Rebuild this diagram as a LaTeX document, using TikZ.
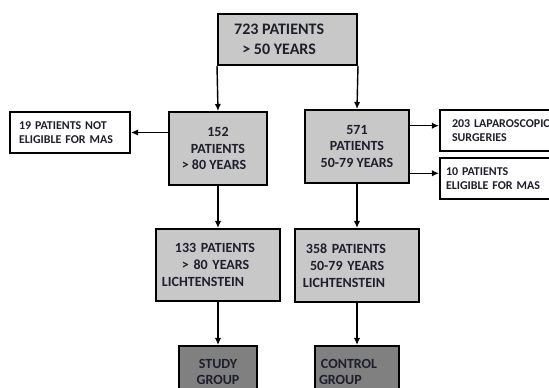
\documentclass[tikz,border=0pt]{standalone}
\usepackage{fontspec}
\setmainfont{Carlito}
\usetikzlibrary{arrows.meta}
\definecolor{boxgray}{HTML}{C8C8C8}
\definecolor{groupgray}{HTML}{808080}
\definecolor{inkdark}{HTML}{1E1E2D}
\newcommand{\toptxt}{\fontsize{11.4}{13.9}\selectfont\bfseries}
\newcommand{\midtxt}{\fontsize{9.96}{11.9}\selectfont\bfseries}
\newcommand{\sidetxt}{\fontsize{8.5}{10.2}\selectfont\bfseries}

\begin{document}
\begin{tikzpicture}[>=Latex,
  stage/.style={draw=black,line width=1.4pt,fill=boxgray,text=inkdark,align=center,inner sep=2pt,font=\midtxt},
  sidebox/.style={draw=black,line width=1.4pt,fill=white,text=inkdark,align=left,inner ysep=2pt,font=\sidetxt},
  groupbox/.style={draw=black,line width=1.4pt,fill=groupgray,text=inkdark,inner ysep=2pt,font=\midtxt},
  arr/.style={-{Latex[length=5pt,width=4.5pt]},line width=1pt}]
\useasboundingbox (0,0) rectangle (13.725,9.7);
\clip (0,0) rectangle (13.725,9.7);
% top level
\node[stage,font=\toptxt,minimum width=3.475cm,minimum height=1.275cm] (all) at (7.1875,8.7125) {723 PATIENTS\hspace*{0.42cm}\\> 50 YEARS\hspace*{0.42cm}};
% age split
\node[stage,minimum width=2.45cm,minimum height=1.825cm] (old) at (5.45,5.9875) {152\\PATIENTS\\> 80 YEARS\hspace*{0.2cm}};
\node[stage,minimum width=2.6cm,minimum height=1.825cm] (young) at (8.925,6.0375) {571\\PATIENTS\\50-79 YEARS};
% excluded
\node[sidebox,inner xsep=0.225cm,text width=2.55cm,minimum height=1.025cm] (notmas) at (1.75,6.3875) {19 PATIENTS NOT\\ELIGIBLE FOR MAS};
\node[sidebox,inner xsep=0.3cm,text width=2.9cm,minimum height=1.025cm] (lap) at (12.75,6.4375) {203 LAPAROSCOPIC\\SURGERIES};
\node[sidebox,inner xsep=0.15cm,text width=3.2cm,minimum height=1.025cm] (yesmas) at (12.75,5.2375) {10 PATIENTS\\ELIGIBLE FOR MAS};
% lichtenstein
\node[stage,align=left,inner xsep=0.15cm,text width=2.8cm,minimum height=1.8cm] (oldlich) at (5.45,3.075) {\hspace*{0.325cm}133 PATIENTS\\\hspace*{0.5cm}> 80 YEARS\\LICHTENSTEIN};
\node[stage,align=left,inner xsep=0.2cm,text width=2.7cm,minimum height=1.825cm] (younglich) at (8.925,3.0625) {\hspace*{0.075cm}358 PATIENTS\\\hspace*{0.175cm}50-79 YEARS\\LICHTENSTEIN};
% groups
\node[groupbox,align=center,minimum width=1.95cm,minimum height=1.3cm] (study) at (5.45,0.4) {STUDY\\GROUP};
\node[groupbox,align=left,inner xsep=0.1cm,text width=1.9cm,minimum height=1.3cm] (control) at (8.925,0.4) {\hspace*{0.05cm}CONTROL\\GROUP};
% arrows
\draw[arr] (all.south west) -- (old.north);
\draw[arr] (all.south east) -- (young.north);
\draw[arr] (old.west |- notmas.east) -- (notmas.east);
\draw[arr] ([yshift=1.2mm]lap.west -| young.east) -- ([yshift=1.2mm]lap.west);
\draw[arr] ([yshift=1.3mm]yesmas.west -| young.east) -- ([yshift=1.3mm]yesmas.west);
\draw[arr] (old.south) -- (oldlich.north);
\draw[arr] (young.south) -- (younglich.north);
\draw[arr] (oldlich.south) -- (study.north);
\draw[arr] (younglich.south) -- (control.north);
\end{tikzpicture}
\end{document}
